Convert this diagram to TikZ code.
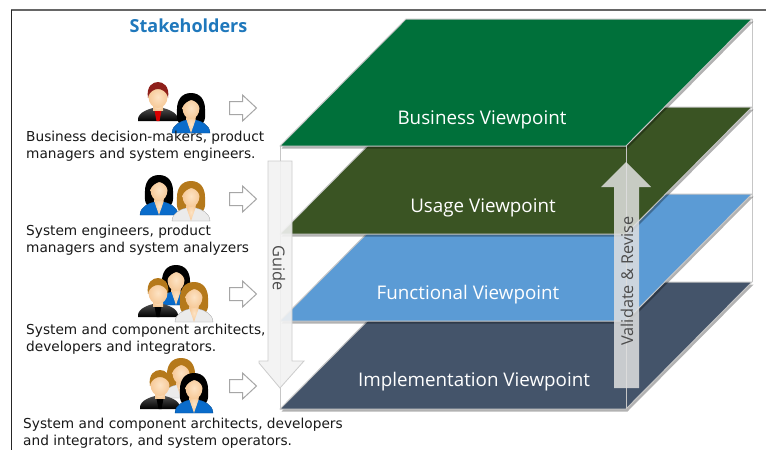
\documentclass[tikz,border=0pt]{standalone}
\usepackage{fontspec}
\setmainfont{DejaVu Sans}
\newfontfamily\headfont{Open Sans}
\definecolor{bizgreen}{HTML}{00703A}
\definecolor{usegreen}{HTML}{3A5423}
\definecolor{funcblue}{HTML}{5B9BD5}
\definecolor{implblue}{HTML}{44546A}
\definecolor{skin}{HTML}{F6C998}
\definecolor{skinlight}{HTML}{FDE3C4}
\definecolor{stakeblue}{HTML}{1F78BC}
\definecolor{edgegray}{HTML}{C6C6C6}
\definecolor{hairred}{HTML}{8E1F1A}
\definecolor{hairbrown}{HTML}{B5791B}
\definecolor{bodyblue}{HTML}{0A6CCB}
\tikzset{
  x=1pt,y=-1pt,
  face/.style={line width=1pt,draw=edgegray,line join=round},
  faceshadow/.style={fill=black,opacity=.3,shift={(1.5,2.5)}},
  edgeline/.style={edgegray,line width=.9pt},
  facetext/.style={text=white,inner sep=0pt,font={\headfont\fontsize{18.8}{21}\selectfont}},
  peopletext/.style={anchor=west,align=left,inner sep=0pt,text=black!90,font={\fontsize{13.7}{16.6}\selectfont}},
  blocklabel/.style={inner sep=0pt,text=black!70,font={\headfont\fontsize{16.3}{18}\selectfont}},
  pics/hollowarrow/.style={code={
    \draw[draw=black!35,fill=white,line width=1pt,line join=miter]
      (0,-6.5)--(13,-6.5)--(13,-13)--(27,0)--(13,13)--(13,6.5)--(0,6.5)--cycle;}},
  pics/manfig/.style 2 args={code={
    \shade[top color=black!70,bottom color=black] (-20,0) .. controls (-21,-7) and (-13,-11) .. (-5,-13) -- (5,-13) .. controls (13,-11) and (21,-7) .. (20,0) -- cycle;
    \fill[#2] (-4,-13) -- (4,-13) -- (1.5,0) -- (-1.5,0) -- cycle;
    \shade[inner color=skinlight,outer color=skin] (-5,-18) rectangle (5,-11);
    \shade[inner color=skinlight,outer color=skin] (0,-24) ellipse [x radius=9.5,y radius=11];
    \fill[#1] (-10,-23) .. controls (-12,-35) and (-5,-39) .. (0,-39) .. controls (5,-39) and (12,-35) .. (10,-23) .. controls (9,-30) and (3,-32) .. (0,-32) .. controls (-3,-32) and (-9,-30) .. (-10,-23) -- cycle;
  }},
  pics/womanfig/.style 2 args={code={
    \fill[#1] (0,-40) .. controls (-10,-40) and (-14,-32) .. (-14,-24) .. controls (-14,-18) and (-15,-14) .. (-12,-10) -- (12,-10) .. controls (15,-14) and (14,-18) .. (14,-24) .. controls (14,-32) and (10,-40) .. (0,-40) -- cycle;
    \path[fill=#2,draw=#2!70!black,line width=.3pt] (-19,0) .. controls (-19,-8) and (-10,-12) .. (-5,-13) -- (5,-13) .. controls (10,-12) and (19,-8) .. (19,0) -- cycle;
    \shade[inner color=skinlight,outer color=skin] (-5,-18) -- (5,-18) -- (4.5,-13) -- (0,0) -- (-4.5,-13) -- cycle;
    \shade[inner color=skinlight,outer color=skin] (0,-25) ellipse [x radius=8.5,y radius=11];
    \fill[#1] (-9,-25) .. controls (-9,-34) and (-3,-37) .. (1,-37) .. controls (5,-36) and (9,-32) .. (9,-25) .. controls (7,-31) and (2,-33) .. (0,-33) .. controls (-3,-32) and (-7,-30) .. (-9,-25) -- cycle;
  }}
}
\begin{document}
\begin{tikzpicture}
\useasboundingbox (0,0) rectangle (766,450);
\fill[white] (0,0) rectangle (766,450);
% frame
\draw[black!60,line width=1.3pt] (11,10) -- (766,10);
\draw[black!85,line width=1pt] (11,10) -- (11,450);
% guide edges
\draw[edgeline] (752,19) -- (752,282);
\draw[edgeline] (280,146) -- (280,409);
% viewpoint planes
\fill[faceshadow] (406,282) -- (752,282) -- (626,409) -- (280,409) -- cycle;
\filldraw[face,fill=implblue] (406,282) -- (752,282) -- (626,409) -- (280,409) -- cycle;
\fill[faceshadow] (406,194) -- (752,194) -- (626,321) -- (280,321) -- cycle;
\filldraw[face,fill=funcblue] (406,194) -- (752,194) -- (626,321) -- (280,321) -- cycle;
\fill[faceshadow] (406,107) -- (752,107) -- (626,234) -- (280,234) -- cycle;
\filldraw[face,fill=usegreen] (406,107) -- (752,107) -- (626,234) -- (280,234) -- cycle;
\fill[faceshadow] (406,19) -- (752,19) -- (626,146) -- (280,146) -- cycle;
\filldraw[face,fill=bizgreen] (406,19) -- (752,19) -- (626,146) -- (280,146) -- cycle;
\draw[edgeline] (626,146) -- (626,409);
\node[facetext] (business) at (482,119.5) {Business Viewpoint};
\node[facetext] (usage) at (483,208) {Usage Viewpoint};
\node[facetext] (functional) at (468,295) {Functional Viewpoint};
\node[facetext] (implementation) at (474,382) {Implementation Viewpoint};
% guide arrow
\filldraw[draw=black!20,line width=.8pt,fill=black!5,fill opacity=.9]
  (268,161) -- (292,161) -- (292,361) -- (304,361) -- (280,388) -- (259,363) -- (259,361) -- (268,361) -- cycle;
\node[blocklabel,rotate=-90] (guide) at (279,268) {Guide};
% validate arrow
\fill[black!12,fill opacity=.85]
  (614,388) -- (639,388) -- (639,187) -- (651,187) -- (626,162) -- (601,187) -- (614,187) -- cycle;
\node[blocklabel,rotate=90] (validate) at (627,281) {Validate \& Revise};
% heading
\node[inner sep=0pt,text=stakeblue,font={\headfont\bfseries\fontsize{18}{20}\selectfont}] (stake) at (188.5,26) {Stakeholders};
% icon 1
\pic at (158,121) {manfig={hairred}{red!85!black}};
\pic at (191,133) {womanfig={black}{bodyblue}};
\pic at (229.5,108) {hollowarrow};
% icon 2
\pic at (159,215) {womanfig={black}{bodyblue}};
\pic at (191,221) {womanfig={hairbrown}{white!92!black}};
\pic at (229.5,199) {hollowarrow};
% icon 3
\pic at (176,305) {womanfig={black}{bodyblue}};
\pic at (158,317) {manfig={hairbrown}{black}};
\pic at (194,322) {womanfig={hairbrown}{white!92!black}};
\pic at (229.5,294) {hollowarrow};
% icon 4
\pic at (181,398) {womanfig={hairbrown}{white!92!black}};
\pic at (160,409) {manfig={hairbrown}{black}};
\pic at (194,413) {womanfig={black}{bodyblue}};
\pic at (229.5,386) {hollowarrow};
% captions
\node[peopletext] (t1) at (26,146) {Business decision-makers, product\\managers and system engineers.};
\node[peopletext] (t2) at (26,240.5) {System engineers, product\\managers and system analyzers};
\node[peopletext] (t3) at (26,339.5) {System and component architects,\\developers and integrators.};
\node[peopletext] (t4) at (23,433) {System and component architects, developers\\and integrators, and system operators.};
\end{tikzpicture}
\end{document}
